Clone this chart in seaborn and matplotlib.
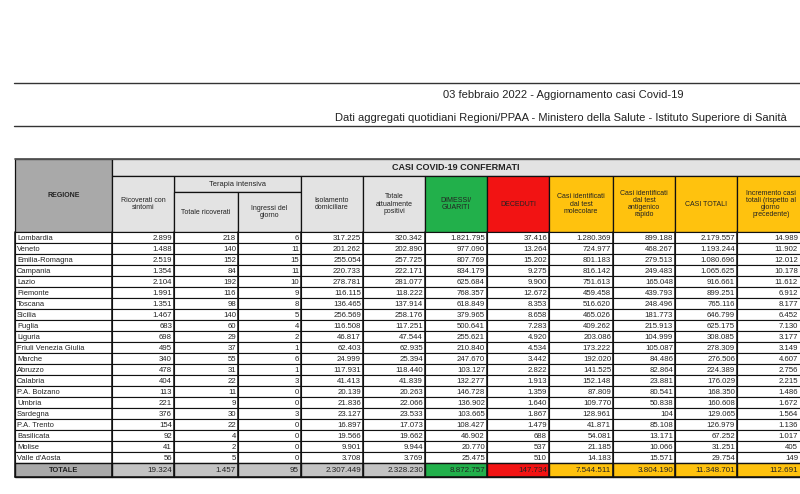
import matplotlib
matplotlib.use("Agg")
import matplotlib.pyplot as plt
import seaborn as sns
from matplotlib.patches import Rectangle

sns.set_theme(style="white")
plt.rcParams['font.family'] = ['Liberation Sans', 'DejaVu Sans']

# ---------------- data ----------------
regioni = ["Lombardia", "Veneto", "Emilia-Romagna", "Campania", "Lazio", "Piemonte",
           "Toscana", "Sicilia", "Puglia", "Liguria", "Friuli Venezia Giulia", "Marche",
           "Abruzzo", "Calabria", "P.A. Bolzano", "Umbria", "Sardegna", "P.A. Trento",
           "Basilicata", "Molise", "Valle d'Aosta"]
ricoverati = [2899, 1488, 2519, 1354, 2104, 1991, 1351, 1467, 683, 698, 495, 340, 478, 404, 113, 221, 376, 154, 92, 41, 56]
ti_totale = [218, 140, 152, 84, 192, 116, 98, 140, 60, 29, 37, 55, 31, 22, 11, 9, 30, 22, 4, 2, 5]
ti_ingressi = [6, 11, 15, 11, 10, 9, 8, 5, 4, 2, 1, 6, 1, 3, 0, 0, 3, 0, 0, 0, 0]
isolamento = [317225, 201262, 255054, 220733, 278781, 116115, 136465, 256569, 116508, 46817, 62403,
              24999, 117931, 41413, 20139, 21836, 23127, 16897, 19566, 9901, 3708]
tot_positivi = [320342, 202890, 257725, 222171, 281077, 118222, 137914, 258176, 117251, 47544, 62935,
                25394, 118440, 41839, 20263, 22066, 23533, 17073, 19662, 9944, 3769]
dimessi = [1821795, 977090, 807769, 834179, 625684, 768357, 618849, 379965, 500641, 255621, 210840,
           247670, 103127, 132277, 146728, 136902, 103665, 108427, 46902, 20770, 25475]
deceduti = [37416, 13264, 15202, 9275, 9900, 12672, 8353, 8658, 7283, 4920, 4534,
            3442, 2822, 1913, 1359, 1640, 1867, 1479, 688, 537, 510]
molecolare = [1280369, 724977, 801183, 816142, 751613, 459458, 516620, 465026, 409262, 203086, 173222,
              192020, 141525, 152148, 87809, 109770, 128961, 41871, 54081, 21185, 14183]
antigenico = [899188, 468267, 279513, 249483, 165048, 439793, 248496, 181773, 215913, 104999, 105087,
              84486, 82864, 23881, 80541, 50838, 104, 85108, 13171, 10066, 15571]
casi_totali = [2179557, 1193244, 1080696, 1065625, 916661, 899251, 765116, 646799, 625175, 308085, 278309,
               276506, 224389, 176029, 168350, 160608, 129065, 126979, 67252, 31251, 29754]
incremento = [14989, 11902, 12012, 10178, 11612, 6912, 8177, 6452, 7130, 3177, 3149,
              4607, 2756, 2215, 1486, 1672, 1564, 1136, 1017, 405, 149]
totale = [19324, 1457, 95, 2307449, 2328230, 8872757, 147734, 7544511, 3804190, 11348701, 112691]

headers = ["Ricoverati con\nsintomi", "Totale ricoverati", "Ingressi del\ngiorno",
           "Isolamento\ndomiciliare", "Totale\nattualmente\npositivi", "DIMESSI/\nGUARITI",
           "DECEDUTI", "Casi identificati\ndal test\nmolecolare",
           "Casi identificati\ndal test\nantigenico\nrapido", "CASI TOTALI",
           "Incremento casi\ntotali (rispetto al\ngiorno\nprecedente)"]
title1 = "03 febbraio 2022 - Aggiornamento casi Covid-19"
title2 = "Dati aggregati quotidiani Regioni/PPAA - Ministero della Salute - Istituto Superiore di Sanità"

columns = [ricoverati, ti_totale, ti_ingressi, isolamento, tot_positivi, dimessi, deceduti,
           molecolare, antigenico, casi_totali, incremento]

def fmt(v):
    return f"{v:,}".replace(",", ".")

# ---------------- layout ----------------
fig = plt.figure(figsize=(8, 4.94), dpi=100)
ax = fig.add_axes([0, 0, 1, 1])
ax.set_xlim(0, 800)
ax.set_ylim(494, 0)
ax.axis("off")

edges = [15, 112, 174, 238, 301, 363, 425, 487, 549, 613, 675, 737, 805]
y_top, y_sub, y_sub2, y_data = 159, 176, 192, 232
row_h = 11
n = len(regioni)
y_tot = y_data + n * row_h
y_bot = y_tot + 14

GREEN = "#22b04b"
RED = "#f21313"
ORANGE = "#ffc20e"
LGRAY = "#e3e3e3"
DGRAY = "#a9a9a9"
TGRAY = "#c3c3c3"
txt = "#222222"

def rect(x0, y0, x1, y1, fc, lw=0.9):
    ax.add_patch(Rectangle((x0, y0), x1 - x0, y1 - y0, facecolor=fc,
                           edgecolor="#111111", linewidth=lw))

# title box
ax.plot([14, 800], [83, 83], color="#333333", lw=1.0)
ax.plot([14, 800], [126, 126], color="#333333", lw=1.0)
ax.text(563, 95, title1, ha="center", va="center", fontsize=8.0, color=txt)
ax.text(787, 118, title2, ha="right", va="center", fontsize=8.0, color=txt)

# header
rect(edges[0], y_top, edges[1], y_data, DGRAY)
ax.text((edges[0] + edges[1]) / 2, (y_top + y_data) / 2, "REGIONE", ha="center", va="center",
        fontsize=5.0, fontweight="bold", color=txt)
rect(edges[1], y_top, edges[-1], y_sub, LGRAY)
ax.text(456, (y_top + y_sub) / 2, "CASI COVID-19 CONFERMATI", ha="center", va="center",
        fontsize=6.5, fontweight="bold", color=txt)
rect(edges[2], y_sub, edges[4], y_sub2, LGRAY)
ax.text((edges[2] + edges[4]) / 2, (y_sub + y_sub2) / 2, "Terapia intensiva", ha="center",
        va="center", fontsize=5.4, color=txt)

head_colors = [LGRAY, LGRAY, LGRAY, LGRAY, LGRAY, GREEN, RED, ORANGE, ORANGE, ORANGE, ORANGE]
tot_colors = [TGRAY, TGRAY, TGRAY, TGRAY, TGRAY, GREEN, RED, ORANGE, ORANGE, ORANGE, ORANGE]
for j, h in enumerate(headers):
    x0, x1 = edges[j + 1], edges[j + 2]
    y0 = y_sub2 if j in (1, 2) else y_sub
    rect(x0, y0, x1, y_data, head_colors[j])
    ax.text((x0 + x1) / 2, (y0 + y_data) / 2, h, ha="center", va="center",
            fontsize=5.0, color=txt, linespacing=1.05)

# data rows
for i, reg in enumerate(regioni):
    y0 = y_data + i * row_h
    rect(edges[0], y0, edges[1], y0 + row_h, "white", lw=0.8)
    ax.text(edges[0] + 2, y0 + row_h / 2 + 0.5, reg, ha="left", va="center",
            fontsize=5.4, color=txt)
    for j, col in enumerate(columns):
        x0, x1 = edges[j + 1], edges[j + 2]
        rect(x0, y0, x1, y0 + row_h, "white", lw=0.8)
        ax.text(min(x1, 800) - 2, y0 + row_h / 2 + 0.5, fmt(col[i]), ha="right",
                va="center", fontsize=5.6, color=txt)

# totals row
rect(edges[0], y_tot, edges[1], y_bot, DGRAY, lw=1.0)
ax.text((edges[0] + edges[1]) / 2, (y_tot + y_bot) / 2, "TOTALE", ha="center", va="center",
        fontsize=5.4, fontweight="bold", color=txt)
for j, v in enumerate(totale):
    x0, x1 = edges[j + 1], edges[j + 2]
    rect(x0, y_tot, x1, y_bot, tot_colors[j], lw=1.0)
    ax.text(min(x1, 800) - 2, (y_tot + y_bot) / 2, fmt(v), ha="right", va="center",
            fontsize=5.8, color=txt)

# vertical column separators (thicker)
for x in edges[:-1]:
    ax.plot([x, x], [y_data, y_bot], color="#111111", lw=1.1)
ax.plot([edges[0], 800], [y_bot, y_bot], color="#111111", lw=1.1)
ax.plot([edges[0], 800], [y_top, y_top], color="#555555", lw=1.3)

fig.savefig("out.png", dpi=100)
